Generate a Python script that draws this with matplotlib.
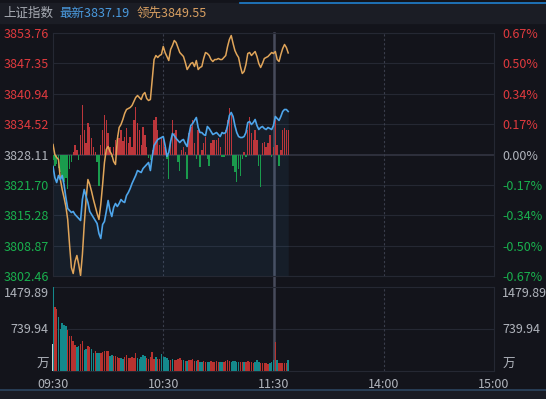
import matplotlib
matplotlib.use("Agg")
import matplotlib.pyplot as plt
import numpy as np
from matplotlib.patches import Rectangle
from matplotlib.lines import Line2D

plt.rcParams['font.family'] = ['Noto Sans CJK SC', 'DejaVu Sans']

prev_close = 3828.11
price_ticks = [3802.46, 3808.87, 3815.28, 3821.70, 3828.11, 3834.52, 3840.94, 3847.35, 3853.76]
pct_labels = ['-0.67%', '-0.50%', '-0.34%', '-0.17%', '0.00%', '0.17%', '0.34%', '0.50%', '0.67%']
vol_ticks = [0, 739.94, 1479.89]
vol_labels = ['万', '739.94', '1479.89']
time_pos = [0, 60, 120, 180, 240]
time_labels = ['09:30', '10:30', '11:30', '14:00', '15:00']

# 上证指数 minute closes
index_line = [
    3825.58, 3823.25, 3822.20, 3823.68, 3822.83, 3823.68, 3821.78, 3819.03, 3816.71, 3816.29,
    3815.87, 3816.08, 3815.44, 3815.02, 3814.60, 3814.18, 3818.61, 3820.72, 3819.24, 3817.98,
    3816.08, 3815.44, 3814.81, 3814.18, 3813.54, 3811.43, 3810.38, 3813.33, 3813.97, 3816.08,
    3818.40, 3816.29, 3815.02, 3816.92, 3817.77, 3817.13, 3817.77, 3818.61, 3818.19, 3817.98,
    3819.45, 3820.09, 3820.93, 3821.99, 3822.83, 3823.68, 3824.73, 3824.52, 3824.31, 3825.15,
    3825.58, 3826.00, 3826.42, 3824.73, 3827.69, 3830.01, 3830.64, 3831.28, 3831.49, 3831.70,
    3831.91, 3830.01, 3827.69, 3828.53, 3830.85, 3832.54, 3832.12, 3831.49, 3831.07, 3830.64,
    3831.07, 3831.28, 3830.43, 3829.80, 3832.33, 3834.23, 3834.65, 3835.29, 3835.92, 3833.81,
    3832.75, 3832.75, 3832.33, 3832.12, 3834.02, 3833.60, 3832.96, 3832.33, 3832.54, 3832.75,
    3832.33, 3831.91, 3832.75, 3832.54, 3832.75, 3834.23, 3836.34, 3836.98, 3836.13, 3834.23,
    3832.75, 3831.91, 3831.70, 3831.70, 3831.91, 3832.75, 3834.86, 3835.07, 3834.44, 3834.86,
    3835.50, 3834.23, 3833.39, 3833.81, 3834.02, 3833.60, 3833.39, 3833.81, 3833.60, 3833.39,
    3834.23, 3836.13, 3835.71, 3835.29, 3836.13, 3837.19, 3837.61, 3837.61, 3837.19]

# 领先指标
lead_line = [
    3830.22, 3828.11, 3827.48, 3827.05, 3822.83, 3820.72, 3819.03, 3817.13, 3814.39, 3809.11,
    3804.26, 3802.99, 3805.52, 3806.79, 3804.89, 3802.57, 3807.00, 3813.33, 3818.61, 3822.83,
    3821.78, 3820.30, 3818.61, 3817.13, 3815.66, 3814.39, 3817.55, 3821.78, 3826.42, 3829.17,
    3829.80, 3828.74, 3828.11, 3826.63, 3826.00, 3831.28, 3833.81, 3834.44, 3835.50, 3836.77,
    3837.61, 3837.82, 3838.03, 3838.45, 3839.30, 3840.14, 3840.56, 3840.14, 3839.72, 3840.78,
    3841.20, 3839.93, 3839.51, 3839.72, 3843.94, 3848.16, 3849.01, 3848.59, 3849.01, 3849.22,
    3850.91, 3849.64, 3848.80, 3847.95, 3850.28, 3851.12, 3852.18, 3851.75, 3850.70, 3849.64,
    3849.22, 3848.80, 3847.53, 3846.05, 3846.69, 3847.32, 3847.53, 3846.69, 3847.95, 3846.05,
    3846.48, 3846.69, 3848.38, 3849.64, 3849.43, 3849.01, 3848.16, 3847.74, 3848.16, 3848.16,
    3848.38, 3848.16, 3848.16, 3848.59, 3849.01, 3850.91, 3852.39, 3853.23, 3851.54, 3850.06,
    3849.22, 3848.59, 3846.69, 3845.21, 3845.63, 3847.11, 3849.43, 3849.64, 3849.01, 3849.43,
    3849.85, 3848.80, 3847.32, 3846.48, 3847.32, 3848.38, 3848.59, 3848.80, 3849.22, 3849.64,
    3849.43, 3849.85, 3848.16, 3847.74, 3849.22, 3850.49, 3851.33, 3850.70, 3849.55]

# buy/sell strength bars (arbitrary units)
strength = [
    -6, -12, -10, -14, -18, -22, -28, -24, -35, -15,
    -8, 3, 10, 5, -6, 20, 50, 25, 12, 32,
    28, 17, 8, 3, -8, -32, 10, 25, 40, 35,
    22, 8, -3, 8, 15, 20, 17, 25, 14, 18,
    27, 12, 18, 8, 35, 48, 32, 25, 10, 28,
    20, 8, -4, -6, 5, 35, 38, 25, 10, 18,
    15, 8, -5, -25, 10, 35, 22, 25, -8, -17,
    5, 8, 3, -25, 22, 28, 35, 12, -5, 25,
    -13, 5, 12, 18, -5, -12, 12, 15, 15, 15,
    17, 8, -3, -3, 25, 35, 47, 40, -12, -18,
    -28, -15, -22, -5, 3, -3, 25, 38, 22, 15,
    25, 15, -12, -33, 12, 13, 8, 12, 20, -3,
    8, 35, 10, -12, 5, 25, 27, 25, 25]

# volume (万) and direction, 1 = up
volume = [
    1479.89, 1134, 1093, 946, 740, 840, 817, 799, 722, 622,
    622, 522, 464, 429, 440, 476, 534, 370, 382, 440,
    417, 382, 311, 358, 311, 317, 323, 340, 358, 352,
    358, 270, 276, 264, 264, 241, 229, 229, 217, 241,
    276, 229, 223, 241, 229, 311, 229, 217, 241, 282,
    270, 229, 217, 252, 329, 211, 252, 211, 217, 300,
    252, 252, 229, 200, 194, 211, 200, 188, 205, 229,
    194, 188, 182, 176, 188, 200, 211, 182, 170, 188,
    164, 158, 176, 164, 158, 164, 170, 158, 164, 176,
    158, 152, 164, 158, 176, 188, 182, 164, 170, 176,
    158, 152, 164, 158, 152, 158, 170, 164, 152, 146,
    158, 188, 164, 146, 141, 135, 141, 129, 146, 158,
    188, 511, 188, 141, 135, 146, 141, 135, 188]
vol_up = [
    0, 1, 1, 0, 0, 0, 0, 0, 1, 1,
    1, 1, 1, 0, 0, 1, 1, 0, 0, 1,
    1, 0, 0, 1, 0, 0, 1, 1, 1, 1,
    1, 0, 0, 1, 1, 1, 1, 0, 0, 1,
    1, 1, 1, 1, 1, 1, 0, 0, 0, 0,
    0, 1, 1, 1, 1, 1, 0, 1, 1, 0,
    0, 0, 0, 0, 1, 0, 1, 1, 1, 1,
    1, 0, 1, 0, 1, 1, 1, 1, 0, 1,
    0, 0, 1, 1, 0, 0, 1, 1, 1, 1,
    1, 0, 0, 1, 1, 1, 1, 0, 0, 0,
    0, 0, 1, 1, 0, 1, 1, 1, 1, 1,
    0, 0, 0, 1, 1, 1, 1, 1, 0, 0,
    0, 1, 0, 1, 1, 1, 1, 1, 0]
auction_vol = 476

BG = '#13141b'
GRID = '#252833'
TXT = '#b0b4bc'
RED_TXT = '#e03a3e'
GREEN_TXT = '#19b04e'
STRENGTH_UNIT = 0.2111
FS = 9

x = np.arange(len(index_line))

fig = plt.figure(figsize=(5.46, 3.99), dpi=100, facecolor=BG)
fig.patches.append(Rectangle((0, 1 - 23 / 399), 1, 20 / 399, transform=fig.transFigure,
                             color='#1b1d25', zorder=0))
fig.patches.append(Rectangle((0, 0), 1, 9 / 399, transform=fig.transFigure,
                             color='#1a1c24', zorder=0))
fig.lines.append(Line2D([0, 1], [9 / 399, 9 / 399], transform=fig.transFigure,
                        color='#2b4560', lw=1.2))
fig.lines.append(Line2D([240 / 546, 1], [1 - 2.5 / 399, 1 - 2.5 / 399], transform=fig.transFigure,
                        color='#1f80d0', lw=1.2))

fig.text(3 / 546, 1 - 13 / 399, '上证指数', color='#a9adb5', fontsize=FS, va='center')
fig.text(59 / 546, 1 - 13 / 399, '最新%.2f' % index_line[-1], color='#4a9be0', fontsize=FS, va='center')
fig.text(137 / 546, 1 - 13 / 399, '领先%.2f' % lead_line[-1], color='#d9a062', fontsize=FS, va='center')

# price panel
ax = fig.add_axes([53 / 546, 1 - 276 / 399, 441 / 546, 243 / 399])
ax.set_facecolor(BG)
ax.set_xlim(0, 240)
ax.set_ylim(price_ticks[0], price_ticks[-1])
for s in ax.spines.values():
    s.set_color(GRID)
for p in price_ticks:
    ax.axhline(p, color='#30333f' if p == prev_close else GRID, lw=1.3 if p == prev_close else 0.8, zorder=1)
for t in (60, 180):
    ax.axvline(t, color='#3a3e4c', lw=0.8, ls=(0, (2, 2)), zorder=1)
ax.axvline(120, ymin=-11 / 243, color='#474b5b', lw=1.8, zorder=1, clip_on=False)

ax.fill_between(x, index_line, price_ticks[0], color='#4aa3e8', alpha=0.07, lw=0, zorder=2)
s = np.array(strength) * STRENGTH_UNIT
ax.bar(x, s, bottom=prev_close, width=0.75,
       color=['#bb363b' if v > 0 else '#1a9b4d' for v in strength], zorder=3)
ax.plot(x, lead_line, color='#e0a55a', lw=1.1, zorder=4)
ax.plot(x, index_line, color='#4ea5ea', lw=1.2, zorder=5)

ax.set_xticks([])
ax.set_yticks(price_ticks)
ax.set_yticklabels(['%.2f' % p for p in price_ticks])
ax.tick_params(axis='y', length=0, pad=3, labelsize=FS)
for lbl, p in zip(ax.get_yticklabels(), price_ticks):
    lbl.set_color(RED_TXT if p > prev_close else GREEN_TXT if p < prev_close else TXT)

ax2 = ax.twinx()
ax2.set_ylim(ax.get_ylim())
ax2.set_yticks(price_ticks)
ax2.set_yticklabels(pct_labels)
ax2.tick_params(axis='y', length=0, pad=6, labelsize=FS)
for s_ in ax2.spines.values():
    s_.set_visible(False)
for lbl, p in zip(ax2.get_yticklabels(), price_ticks):
    lbl.set_color(RED_TXT if p > prev_close else GREEN_TXT if p < prev_close else TXT)

# volume panel
vax = fig.add_axes([53 / 546, 1 - 371 / 399, 441 / 546, 84 / 399])
vax.set_facecolor(BG)
vax.set_xlim(0, 240)
vax.set_ylim(0, vol_ticks[-1])
for s_ in vax.spines.values():
    s_.set_color(GRID)
vax.axhline(vol_ticks[1], color=GRID, lw=0.8)
for t in (60, 180):
    vax.axvline(t, color='#3a3e4c', lw=0.8, ls=(0, (2, 2)))
vax.axvline(120, color='#474b5b', lw=1.8)
vax.bar(x, volume, width=0.8, color=['#b8322f' if u else '#14898c' for u in vol_up], zorder=3)
vax.bar(-0.5, auction_vol, width=0.6, color='#c9ccd2', zorder=3, clip_on=False)

vax.set_yticks(vol_ticks)
vax.set_yticklabels(vol_labels)
vax.tick_params(axis='y', length=0, pad=3, labelsize=FS, labelcolor=TXT)
vals = ['bottom', 'center', 'top']
for lbl, va in zip(vax.get_yticklabels(), vals):
    lbl.set_verticalalignment(va)
vax2 = vax.twinx()
vax2.set_ylim(vax.get_ylim())
vax2.set_yticks(vol_ticks)
vax2.set_yticklabels(vol_labels)
vax2.tick_params(axis='y', length=0, pad=6, labelsize=FS, labelcolor=TXT)
for s_ in vax2.spines.values():
    s_.set_visible(False)
for lbl, va in zip(vax2.get_yticklabels(), vals):
    lbl.set_verticalalignment(va)

vax.set_xticks(time_pos)
vax.set_xticklabels(time_labels)
vax.tick_params(axis='x', length=0, pad=5, labelsize=FS, labelcolor=TXT)

fig.savefig('out.png', dpi=100, facecolor=BG)
